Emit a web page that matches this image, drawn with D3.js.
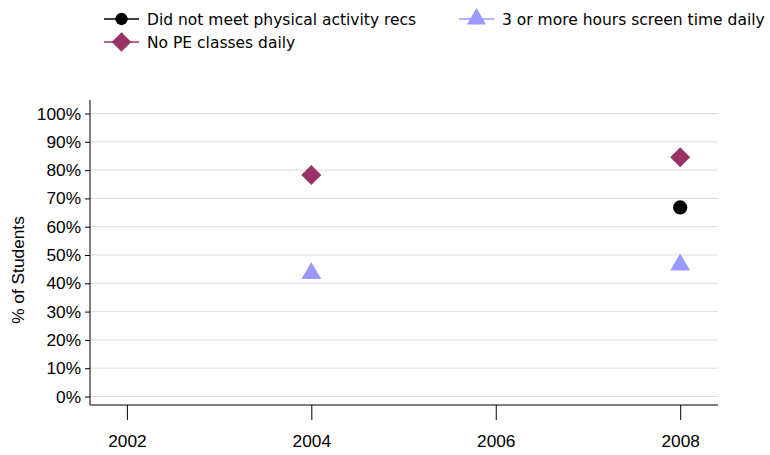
<!DOCTYPE html>
<html><head><meta charset="utf-8">
<script src="https://cdn.jsdelivr.net/npm/d3@7"></script>
<style>body{margin:0;background:#fff}svg{display:block}</style>
</head><body>
<svg id="c" width="770" height="455"></svg>
<script>
const years = [2002, 2004, 2006, 2008];
const yTicks = [0,10,20,30,40,50,60,70,80,90,100];
const seriesNames = ["Did not meet physical activity recs", "No PE classes daily", "3 or more hours screen time daily"];
const notMeetRecs = [null, null, null, 66.8];
const noPEDaily = [null, 78.3, null, 84.5];
const screenTime = [null, 43.5, null, 46.5];

const AX_FONT = "'Liberation Sans', Arial, sans-serif";
const LEG_FONT = "'DejaVu Sans', Verdana, sans-serif";
const svg = d3.select("#c");
const L = 90, R = 718, T = 100, B = 405;
const x = d3.scaleLinear().domain([2001.6, 2008.41]).range([L, R]);
const y = d3.scaleLinear().domain([0, 100]).range([396.5, 113.5]);

// gridlines
svg.append("g").selectAll("line").data(yTicks).join("line")
  .attr("x1", L).attr("x2", R).attr("y1", d => y(d)).attr("y2", d => y(d))
  .attr("stroke", "#dddddd").attr("stroke-width", 1);

// y axis
const ya = svg.append("g").attr("transform", `translate(${L},0)`)
  .call(d3.axisLeft(y).tickValues(yTicks).tickFormat(d => d + "%").tickSize(5).tickSizeOuter(0));
ya.select(".domain").attr("d", `M0,${T}V${B}`).attr("stroke", "#000");
ya.selectAll("text").style("font-family", AX_FONT).style("font-size", "17.3px").attr("fill", "#000").attr("x", -9);

// x axis
const xa = svg.append("g").attr("transform", `translate(0,${B})`)
  .call(d3.axisBottom(x).tickValues(years).tickFormat(d3.format("d")).tickSize(15).tickSizeOuter(0));
xa.select(".domain").attr("d", `M${L},0H${R}`).attr("stroke", "#000");
xa.selectAll("text").style("font-family", AX_FONT).style("font-size", "17.3px").attr("fill", "#000").attr("y", 30);

// y label
svg.append("text").attr("transform", "translate(24,270) rotate(-90)")
  .attr("text-anchor", "middle").style("font-family", AX_FONT)
  .style("font-size", "17.3px").text("% of Students");

const sym = {
  circle: d3.symbol().type(d3.symbolCircle).size(160),
  diamond: d3.symbol().type(d3.symbolSquare).size(200),
  triangle: d3.symbol().type(d3.symbolTriangle).size(170)
};
const series = [
  {name: seriesNames[0], vals: notMeetRecs, color: "#000000", shape: "circle", rot: 0},
  {name: seriesNames[1], vals: noPEDaily, color: "#993366", shape: "diamond", rot: 45},
  {name: seriesNames[2], vals: screenTime, color: "#9999ff", shape: "triangle", rot: 0}
];
series.forEach(s => {
  const pts = years.map((yr, i) => ({yr, v: s.vals[i]})).filter(d => d.v != null);
  svg.append("g").selectAll("path").data(pts).join("path")
    .attr("d", sym[s.shape]())
    .attr("transform", d => `translate(${x(d.yr)},${y(d.v)}) rotate(${s.rot})`)
    .attr("fill", s.color);
});

// legend
const legPos = [[104, 19], [104, 42], [459, 19]];
const legSym = {
  circle: d3.symbol().type(d3.symbolCircle).size(120),
  diamond: d3.symbol().type(d3.symbolSquare).size(190),
  triangle: d3.symbol().type(d3.symbolTriangle).size(160)
};
series.forEach((s, i) => {
  const [lx, ly] = legPos[i];
  const g = svg.append("g").attr("transform", `translate(${lx},${ly})`);
  g.append("line").attr("x1", 0).attr("x2", 35).attr("y1", 0).attr("y2", 0).attr("stroke", s.color).attr("stroke-width", 1.5);
  g.append("path").attr("d", legSym[s.shape]()).attr("transform", `translate(17.5,0) rotate(${s.rot})`).attr("fill", s.color);
  g.append("text").attr("x", 43).attr("y", 5.5).style("font-family", LEG_FONT)
    .style("font-size", "15.5px").attr("fill", "#000").text(s.name);
});
</script>
</body></html>
